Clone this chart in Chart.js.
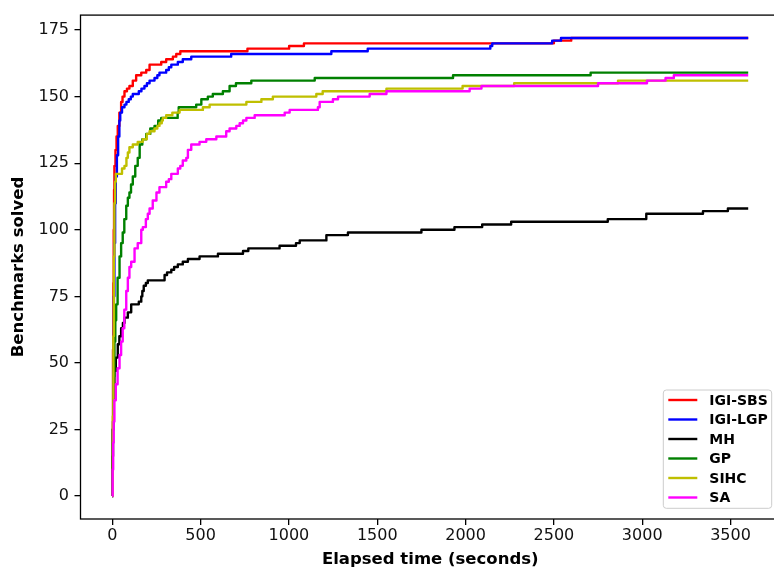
<!DOCTYPE html>
<html>
<head>
<meta charset="utf-8">
<script src="https://cdn.jsdelivr.net/npm/chart.js@4/dist/chart.umd.min.js"></script>
<style>
html,body{margin:0;padding:0;overflow:hidden;background:#fff;width:774px;height:576px}
#clip{width:774px;height:576px;overflow:hidden;position:relative}
canvas{display:block}
</style>
</head>
<body>
<div id="clip"><canvas id="c" width="780" height="576"></canvas></div>
<script>
// ---- tick labels ----
const xTicks = [0, 500, 1000, 1500, 2000, 2500, 3000, 3500];
const yTicks = [0, 25, 50, 75, 100, 125, 150, 175];

// ---- series names / colours ----
const seriesNames  = ['IGI-SBS', 'IGI-LGP', 'MH', 'GP', 'SIHC', 'SA'];
const seriesColors = ['#ff0000', '#0000ff', '#000000', '#008000', '#bfbf00', '#ff00ff'];

// ---- series values: elapsed time (s) and benchmarks solved ----
const sbsTime = [0,2,4,6,8,10,12,18,24,31,40,50,58,69,83,97,116,135,164,192,211,277,305,343,362,385,765,1001,1085,2500,2598,3600];
const sbsSolved = [0,25,55,80,100,115,124,130,135,139,144,148,150,152,153,154,156,158,159,160,162,163,164,165,166,167,168,169,170,171,172,172];

const lgpTime = [0,3,6,9,12,16,20,26,33,40,45,55,69,80,93,105,116,150,165,182,196,211,239,255,267,305,320,334,371,399,447,673,1240,1446,2140,2151,2490,2540,3600];
const lgpSolved = [0,25,50,75,95,110,120,128,135,141,144,146,147,148,149,150,151,152,153,154,155,156,157,158,159,160,161,162,163,164,165,166,167,168,169,170,171,172,172];

const mhTime = [0,2,4,7,12,20,31,40,50,60,69,88,107,150,164,170,178,190,201,296,310,334,350,371,399,428,494,598,740,770,947,1040,1061,1212,1334,1750,1937,2094,2258,2805,3023,3344,3485,3600];
const mhSolved = [0,15,28,38,47,52,57,60,63,65,67,69,72,73,75,77,79,80,81,83,84,85,86,87,88,89,90,91,92,93,94,95,96,98,99,100,101,102,103,104,106,107,108,108];

const gpTime = [0,3,7,12,17,22,30,41,50,59,68,79,88,97,106,116,130,144,155,170,192,215,239,260,277,370,376,475,504,541,569,626,664,700,787,1146,1929,2708,3600];
const gpSolved = [0,25,45,58,66,72,82,90,95,99,104,109,112,114,117,120,124,127,132,134,136,138,139,141,142,144,146,147,149,150,151,152,154,155,156,157,158,159,159];

const sihcTime = [0,3,6,9,12,16,20,55,69,80,88,97,116,144,173,195,211,239,255,267,280,286,305,340,381,513,551,759,844,909,1155,1191,1552,1983,2275,2863,3600];
const sihcSolved = [0,30,60,90,110,118,121,123,124,127,129,131,132,133,134,136,137,138,139,140,141,142,143,144,145,146,147,148,149,150,151,152,153,154,155,156,156];

const saTime = [0,2,5,8,12,20,30,41,50,59,68,79,88,97,107,126,144,164,173,190,201,211,229,250,267,305,320,334,371,385,399,419,428,447,494,532,589,645,664,702,721,740,759,806,976,1004,1164,1174,1249,1278,1457,1552,2023,2090,2750,3027,3132,3179,3600];
const saSolved = [0,10,20,28,36,42,48,53,58,63,70,77,82,86,88,93,95,100,101,104,106,108,111,114,116,118,119,121,123,124,126,127,130,132,133,134,135,137,138,139,140,141,142,143,144,145,146,148,149,150,151,152,153,154,155,156,157,158,158];

const seriesTimes  = [sbsTime, lgpTime, mhTime, gpTime, sihcTime, saTime];
const seriesSolved = [sbsSolved, lgpSolved, mhSolved, gpSolved, sihcSolved, saSolved];

const FONT = 'DejaVu Sans';

const datasets = seriesNames.map((name, i) => ({
  label: name,
  data: seriesTimes[i].map((t, k) => ({x: t, y: seriesSolved[i][k]})),
  borderColor: seriesColors[i],
  backgroundColor: seriesColors[i],
  borderWidth: 2.4,
  pointRadius: 0,
  stepped: 'before',
  fill: false,
  tension: 0,
  borderJoinStyle: 'round',
  order: seriesNames.length - 1 - i
}));

const framePlugin = {
  id: 'frame',
  afterDatasetsDraw(chart) {
    const a = chart.chartArea, ctx = chart.ctx;
    ctx.save();
    ctx.strokeStyle = '#000';
    ctx.lineWidth = 1.3;
    ctx.strokeRect(a.left, a.top, a.right - a.left, a.bottom - a.top);
    ctx.restore();
  }
};

const legendPlugin = {
  id: 'mplLegend',
  afterDraw(chart) {
    const a = chart.chartArea, ctx = chart.ctx;
    const w = 108.4, h = 118.3;
    const right = a.right - 8.3, bottom = a.bottom - 10.7;
    const left = right - w, top = bottom - h;
    ctx.save();
    ctx.beginPath();
    ctx.roundRect(left, top, w, h, 3);
    ctx.fillStyle = 'rgba(255,255,255,0.8)';
    ctx.fill();
    ctx.strokeStyle = '#cccccc';
    ctx.lineWidth = 1;
    ctx.stroke();
    ctx.font = 'bold 14px "' + FONT + '"';
    ctx.textBaseline = 'middle';
    ctx.textAlign = 'left';
    chart.data.datasets.forEach((ds, i) => {
      const y = top + 10 + i * 19.5;
      ctx.beginPath();
      ctx.moveTo(left + 5, y);
      ctx.lineTo(left + 34, y);
      ctx.strokeStyle = ds.borderColor;
      ctx.lineWidth = 2.4;
      ctx.stroke();
      ctx.fillStyle = '#000';
      ctx.fillText(ds.label, left + 46, y + 1);
    });
    ctx.restore();
  }
};

new Chart(document.getElementById('c'), {
  type: 'line',
  data: {datasets},
  options: {
    responsive: false,
    maintainAspectRatio: false,
    devicePixelRatio: 1,
    animation: false,
    events: [],
    layout: {padding: {top: 6, left: 0, right: 0, bottom: 0}},
    plugins: {legend: {display: false}, tooltip: {enabled: false}},
    scales: {
      x: {
        type: 'linear',
        min: -180, max: 3780,
        afterBuildTicks: s => { s.ticks = xTicks.map(v => ({value: v})); },
        afterFit: s => { s.height = 57; },
        grid: {drawOnChartArea: false, drawTicks: true, tickLength: 6, color: '#000', lineWidth: 1.3},
        border: {display: false},
        ticks: {font: {family: FONT, size: 16}, color: '#111', padding: 1.5, maxRotation: 0, autoSkip: false,
                callback: v => String(v)},
        title: {display: true, text: 'Elapsed time (seconds)', color: '#000',
                font: {family: FONT, size: 16.5, weight: 'bold'}, padding: {top: 0, bottom: 6}}
      },
      y: {
        type: 'linear',
        min: -8.6, max: 180.6,
        afterBuildTicks: s => { s.ticks = yTicks.map(v => ({value: v})); },
        afterFit: s => { s.width = 80.5; },
        grid: {drawOnChartArea: false, drawTicks: true, tickLength: 6, color: '#000', lineWidth: 1.3},
        border: {display: false},
        ticks: {font: {family: FONT, size: 16}, color: '#111', padding: 5.5, autoSkip: false,
                callback: v => String(v)},
        title: {display: true, text: 'Benchmarks solved', color: '#000',
                font: {family: FONT, size: 16.5, weight: 'bold'}, padding: {top: 8.5, bottom: 0}}
      }
    }
  },
  plugins: [framePlugin, legendPlugin]
});
</script>
</body>
</html>
